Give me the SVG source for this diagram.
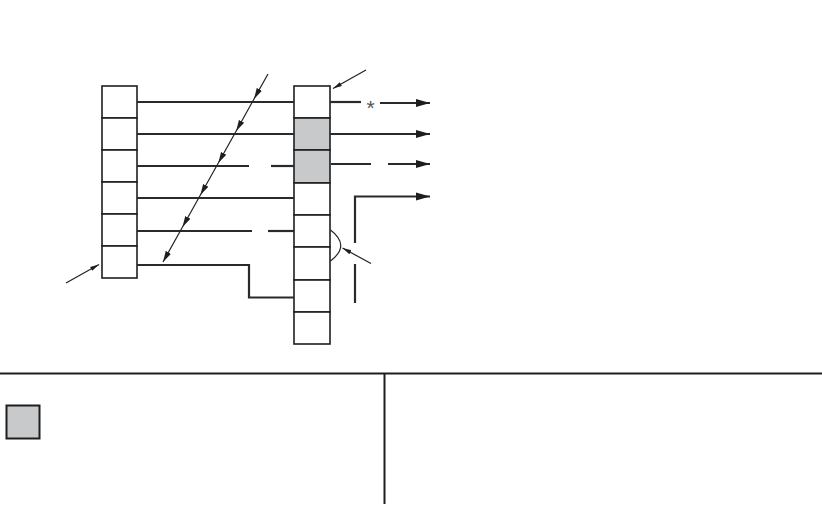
<svg xmlns="http://www.w3.org/2000/svg" width="822" height="516" viewBox="0 0 822 516">
<style>
.box{fill:#fff;stroke:#1e1e1e;stroke-width:1.6}
.gray{fill:#c8c9cb;stroke:#1e1e1e;stroke-width:1.6}
.ln{fill:none;stroke:#2a2a2a;stroke-width:2.2}
.thin{fill:none;stroke:#222;stroke-width:1.2}
.frame{fill:none;stroke:#1e1e1e;stroke-width:2}
</style>
<defs>
<marker id="ah" markerUnits="userSpaceOnUse" markerWidth="16" markerHeight="10" refX="14" refY="5" orient="auto">
<path d="M0,1 L14,5 L0,9 Z" fill="#1e1e1e"/>
</marker>
<marker id="ad" markerUnits="userSpaceOnUse" markerWidth="12" markerHeight="8" refX="11" refY="4" orient="auto">
<path d="M0,1 L11,4 L0,7 Z" fill="#1e1e1e"/>
</marker>
<marker id="as" markerUnits="userSpaceOnUse" markerWidth="10" markerHeight="6" refX="9" refY="3" orient="auto">
<path d="M0,0.8 L9,3 L0,5.2 Z" fill="#1e1e1e"/>
</marker>
</defs>

<g id="left-column">
<rect class="box" x="102" y="86" width="35" height="32"/>
<rect class="box" x="102" y="118" width="35" height="32"/>
<rect class="box" x="102" y="150" width="35" height="32"/>
<rect class="box" x="102" y="182" width="35" height="32"/>
<rect class="box" x="102" y="214" width="35" height="32"/>
<rect class="box" x="102" y="246" width="35" height="32"/>
</g>

<g id="right-column">
<rect class="box" x="294" y="86" width="36" height="32"/>
<rect class="gray" x="294" y="118" width="36" height="32"/>
<rect class="gray" x="294" y="150" width="36" height="33"/>
<rect class="box" x="294" y="183" width="36" height="32"/>
<rect class="box" x="294" y="215" width="36" height="32"/>
<rect class="box" x="294" y="247" width="36" height="33"/>
<rect class="box" x="294" y="280" width="36" height="32"/>
<rect class="box" x="294" y="312" width="36" height="32"/>
</g>

<g id="connectors">
<line class="ln" x1="137" y1="102" x2="294" y2="102"/>
<line class="ln" x1="330" y1="102" x2="361" y2="102"/>
<line class="ln" x1="380" y1="103" x2="430" y2="103" marker-end="url(#ah)"/>
<line class="ln" x1="137" y1="134" x2="294" y2="134"/>
<line class="ln" x1="330" y1="134" x2="430" y2="134" marker-end="url(#ah)"/>
<line class="ln" x1="137" y1="166" x2="249" y2="166"/>
<line class="ln" x1="271" y1="166" x2="294" y2="166"/>
<line class="ln" x1="331" y1="164" x2="371" y2="164"/>
<line class="ln" x1="388" y1="164" x2="430" y2="164" marker-end="url(#ah)"/>
<line class="ln" x1="137" y1="198" x2="294" y2="198"/>
<polyline class="ln" points="355,243 355,196.5 430,196.5" marker-end="url(#ah)"/>
<line class="ln" x1="355" y1="264" x2="355" y2="303"/>
<line class="ln" x1="137" y1="231" x2="252" y2="231"/>
<line class="ln" x1="268" y1="231" x2="294" y2="231"/>
<polyline class="ln" points="137,265 249,265 249,297.5 294,297.5"/>
<polyline class="thin" points="268,74 254,99 236.2,131 218.3,163 200.4,195 182.5,227 163,262" marker-mid="url(#ad)" marker-end="url(#ad)"/>
<line class="thin" x1="66" y1="283" x2="99" y2="264.5" marker-end="url(#as)"/>
<line class="thin" x1="366" y1="70" x2="333" y2="88.5" marker-end="url(#as)"/>
<path class="thin" d="M330.5,230 Q351,245.5 330.5,261"/>
<line class="thin" x1="371" y1="263.5" x2="342.5" y2="248" marker-end="url(#as)"/>
</g>

<text x="370.5" y="115" font-family="Liberation Sans, sans-serif" font-size="21" fill="#555" text-anchor="middle">*</text>

<g id="legend">
<line class="frame" x1="0" y1="373.5" x2="822" y2="373.5"/>
<line class="frame" x1="384.5" y1="373.5" x2="384.5" y2="504"/>
<rect x="6.5" y="405.5" width="33" height="33" fill="#c8c9cb" stroke="#1e1e1e" stroke-width="2"/>
</g>
</svg>
